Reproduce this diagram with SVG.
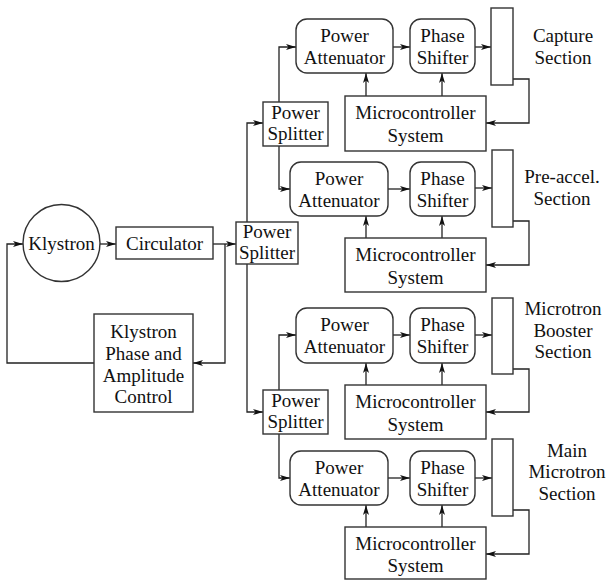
<svg xmlns="http://www.w3.org/2000/svg" width="607" height="580" viewBox="0 0 607 580">
<style>
.b{fill:#fff;stroke:#333;stroke-width:1.4}
.c{fill:none;stroke:#222;stroke-width:1.3;marker-end:url(#ah)}
</style>
<defs>
<marker id="ah" viewBox="0 0 10 6" refX="10" refY="3" markerWidth="10" markerHeight="6" markerUnits="userSpaceOnUse" orient="auto">
<path d="M0,0 L10,3 L0,6 L2.5,3 z" fill="#111"/>
</marker>
</defs>
<rect width="607" height="580" fill="#fff"/>
<g id="connectors">
<path class="c" d="M100,244 H116"/>
<path class="c" d="M213,244 H236"/>
<path class="c" d="M225,244 V363 H193"/>
<path class="c" d="M94,363 H7 V244 H23"/>
<path class="c" d="M247,222 V123 H263"/>
<path class="c" d="M247,264 V412 H263"/>
<path class="c" d="M279,102 V47 H296"/>
<path class="c" d="M279,146 V189 H290"/>
<path class="c" d="M279,390 V335 H296"/>
<path class="c" d="M279,434 V478 H290"/>
<path class="c" d="M393,47 H410"/>
<path class="c" d="M475,47 H491"/>
<path class="c" d="M513,79 H529 V123 H486"/>
<path class="c" d="M366,96 V73"/>
<path class="c" d="M442,96 V73"/>
<path class="c" d="M388,189 H410"/>
<path class="c" d="M475,188 H492"/>
<path class="c" d="M513,221 H529 V265 H486"/>
<path class="c" d="M366,238 V216"/>
<path class="c" d="M442,238 V216"/>
<path class="c" d="M393,335 H410"/>
<path class="c" d="M475,335 H492"/>
<path class="c" d="M513,369 H529 V412 H486"/>
<path class="c" d="M366,385 V363"/>
<path class="c" d="M442,385 V363"/>
<path class="c" d="M388,478 H410"/>
<path class="c" d="M475,478 H492"/>
<path class="c" d="M513,510 H529 V554 H486"/>
<path class="c" d="M366,527 V505"/>
<path class="c" d="M442,527 V505"/>
</g>
<g font-family="Liberation Serif, Times New Roman, serif" font-size="19" fill="#111" text-anchor="middle">
<g id="klystron"><circle class="b" cx="61.5" cy="243" r="38.5"/><text x="61.5" y="250">Klystron</text></g>
<g id="circulator"><rect class="b" x="116" y="227" width="97" height="32"/><text x="164.5" y="250">Circulator</text></g>
<g id="splitter-main"><rect class="b" x="236" y="222" width="62" height="42"/><text x="267" y="238">Power</text><text x="267" y="259">Splitter</text></g>
<g id="kpac"><rect class="b" x="94" y="314" width="99" height="98"/><text x="143.5" y="338">Klystron</text><text x="143.5" y="360">Phase and</text><text x="143.5" y="382">Amplitude</text><text x="143.5" y="403">Control</text></g>
<g id="splitter-upper"><rect class="b" x="263" y="102" width="65" height="44"/><text x="295.5" y="119">Power</text><text x="295.5" y="140">Splitter</text></g>
<g id="splitter-lower"><rect class="b" x="263" y="390" width="65" height="44"/><text x="295.5" y="407">Power</text><text x="295.5" y="428">Splitter</text></g>

<g id="att1"><rect class="b" x="296" y="19" width="97" height="54" rx="11"/><text x="344.5" y="42">Power</text><text x="344.5" y="64">Attenuator</text></g>
<g id="ps1"><rect class="b" x="410" y="19" width="65" height="54" rx="11"/><text x="442.5" y="42">Phase</text><text x="442.5" y="64">Shifter</text></g>
<g id="sec1"><rect class="b" x="491" y="8" width="22" height="77"/><text x="563" y="42">Capture</text><text x="563" y="64">Section</text></g>
<g id="mcs1"><rect class="b" x="345" y="96" width="141" height="55"/><text x="415.5" y="119">Microcontroller</text><text x="415.5" y="142">System</text></g>

<g id="att2"><rect class="b" x="290" y="162" width="98" height="54" rx="11"/><text x="339" y="185">Power</text><text x="339" y="207">Attenuator</text></g>
<g id="ps2"><rect class="b" x="410" y="162" width="65" height="54" rx="11"/><text x="442.5" y="185">Phase</text><text x="442.5" y="207">Shifter</text></g>
<g id="sec2"><rect class="b" x="492" y="150" width="21" height="77"/><text x="562" y="183">Pre-accel.</text><text x="562" y="205">Section</text></g>
<g id="mcs2"><rect class="b" x="345" y="238" width="141" height="54"/><text x="415.5" y="261">Microcontroller</text><text x="415.5" y="284">System</text></g>

<g id="att3"><rect class="b" x="296" y="308" width="97" height="55" rx="11"/><text x="344.5" y="331">Power</text><text x="344.5" y="353">Attenuator</text></g>
<g id="ps3"><rect class="b" x="410" y="308" width="65" height="55" rx="11"/><text x="442.5" y="331">Phase</text><text x="442.5" y="353">Shifter</text></g>
<g id="sec3"><rect class="b" x="492" y="298" width="21" height="76"/><text x="563" y="315">Microtron</text><text x="563" y="337">Booster</text><text x="563" y="358">Section</text></g>
<g id="mcs3"><rect class="b" x="345" y="385" width="141" height="54"/><text x="415.5" y="408">Microcontroller</text><text x="415.5" y="431">System</text></g>

<g id="att4"><rect class="b" x="290" y="451" width="98" height="54" rx="11"/><text x="339" y="474">Power</text><text x="339" y="496">Attenuator</text></g>
<g id="ps4"><rect class="b" x="410" y="451" width="65" height="54" rx="11"/><text x="442.5" y="474">Phase</text><text x="442.5" y="496">Shifter</text></g>
<g id="sec4"><rect class="b" x="492" y="439" width="21" height="77"/><text x="567" y="457">Main</text><text x="567" y="478">Microtron</text><text x="567" y="500">Section</text></g>
<g id="mcs4"><rect class="b" x="345" y="527" width="141" height="52"/><text x="415.5" y="550">Microcontroller</text><text x="415.5" y="572">System</text></g>
</g>
</svg>
